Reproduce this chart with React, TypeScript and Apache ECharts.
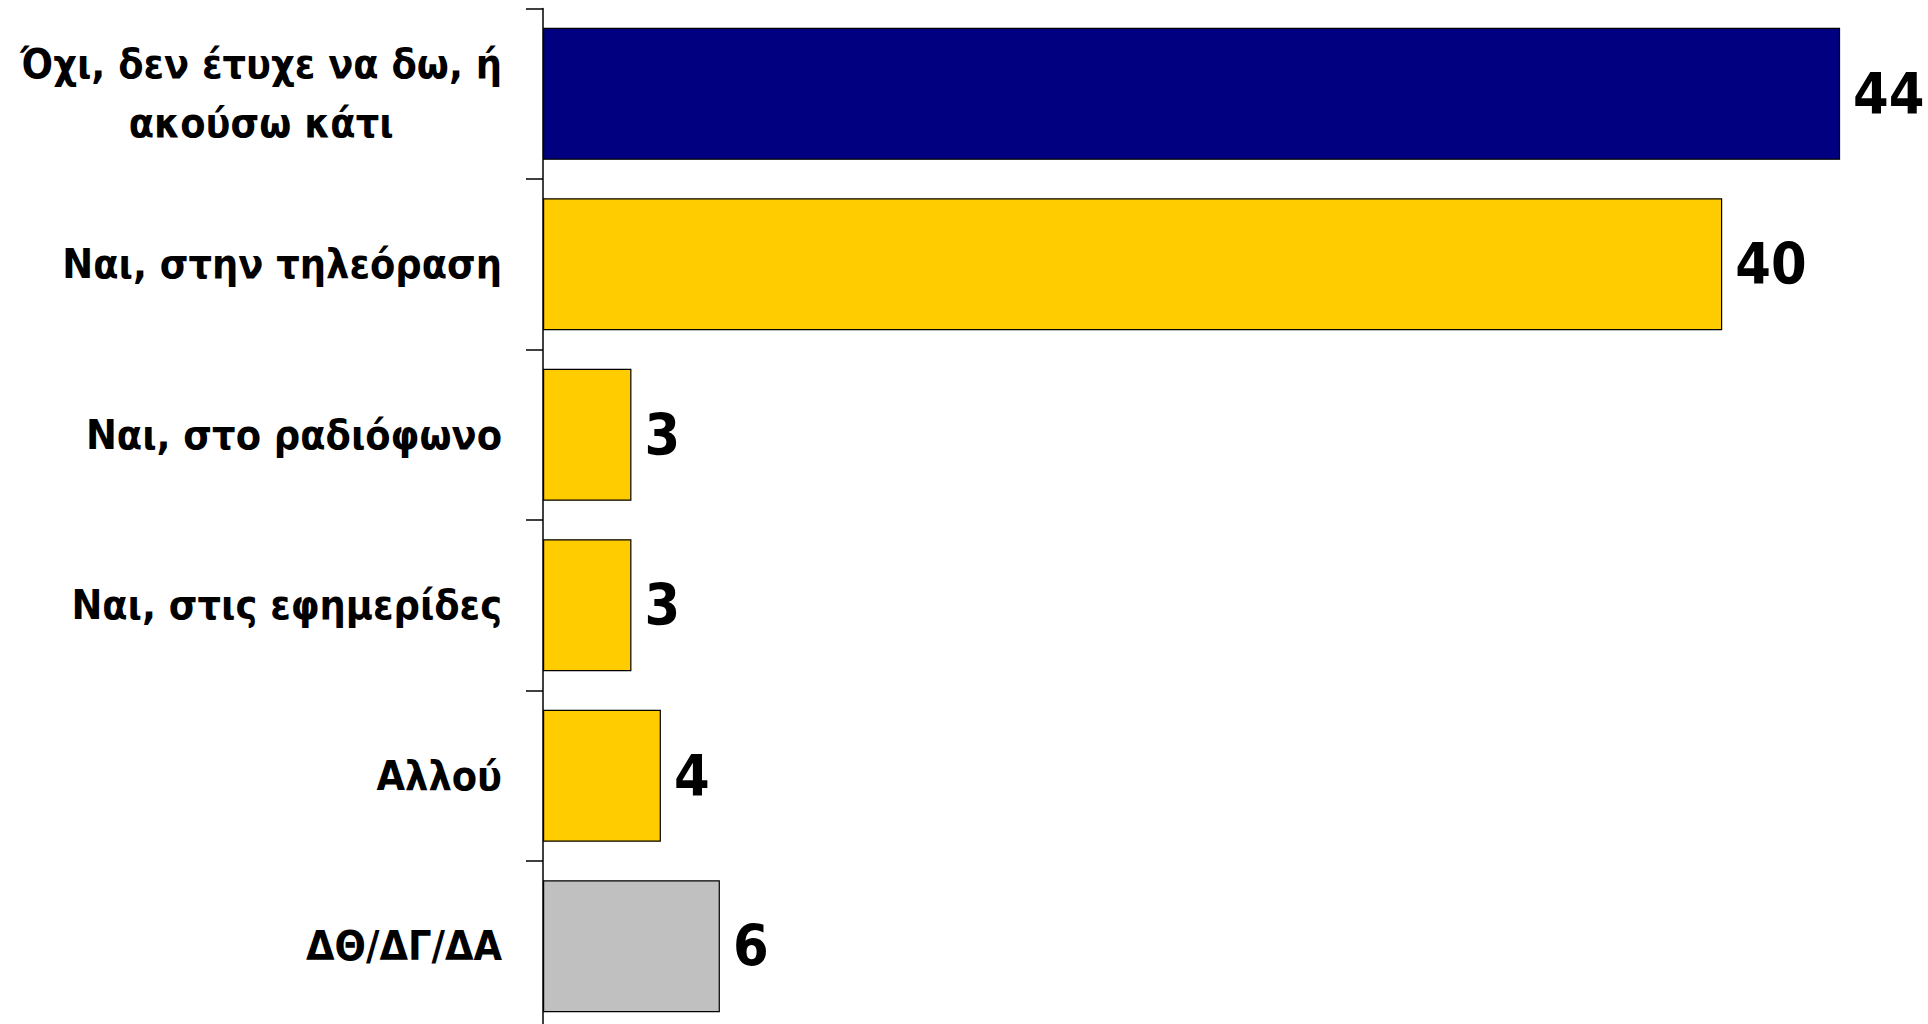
import React, { useEffect, useRef } from "react";
import * as echarts from "echarts";

const categories = [
  "Όχι, δεν έτυχε να δω, ή\nακούσω κάτι",
  "Ναι, στην τηλεόραση",
  "Ναι, στο ραδιόφωνο",
  "Ναι, στις εφημερίδες",
  "Αλλού",
  "ΔΘ/ΔΓ/ΔΑ",
];
const values = [44, 40, 3, 3, 4, 6];
const barColors = ["#000080", "#FFCC00", "#FFCC00", "#FFCC00", "#FFCC00", "#C0C0C0"];

const FONT = "'Liberation Sans Narrow', 'Arial Narrow', 'DejaVu Sans Condensed', sans-serif";

export default function App() {
  const ref = useRef<HTMLDivElement>(null);
  useEffect(() => {
    if (!ref.current) return;
    const chart = echarts.init(ref.current, null, { renderer: "svg" });
    chart.setOption({
      animation: false,
      backgroundColor: "#ffffff",
      grid: {
        left: 543,
        top: 8.5,
        bottom: -7.5,
        right: 58.4,
        containLabel: false,
        outerBoundsMode: "none",
      },
      xAxis: {
        type: "value",
        min: 0,
        max: 45,
        show: false,
        splitLine: { show: false },
      },
      yAxis: {
        type: "category",
        inverse: true,
        data: categories,
        axisLine: { show: true, lineStyle: { color: "#000", width: 1.5 } },
        axisTick: { show: true, length: 17, lineStyle: { color: "#000", width: 1.5 } },
        axisLabel: {
          margin: 41,
          formatter: (v: string) =>
            v
              .split("\n")
              .map((l) => "{c|" + l + "}")
              .join("\n"),
          rich: {
            c: {
              align: "center",
              fontFamily: FONT,
              fontWeight: "bold",
              fontSize: 41,
              lineHeight: 59,
              color: "#000",
            },
          },
        },
        splitLine: { show: false },
      },
      series: [
        {
          type: "bar",
          data: values.map((v, i) => ({ value: v, itemStyle: { color: barColors[i] } })),
          barCategoryGap: "22.5%",
          itemStyle: { borderColor: "#000", borderWidth: 1.2 },
          label: {
            show: true,
            position: "right",
            distance: 13,
            fontFamily: FONT,
            fontWeight: "bold",
            fontSize: 57,
            color: "#000",
          },
        },
      ],
    });
    return () => chart.dispose();
  }, []);
  return (
    <div
      ref={ref}
      style={{ position: "fixed", top: 0, left: 0, width: 1928, height: 1024, background: "#fff" }}
    />
  );
}
